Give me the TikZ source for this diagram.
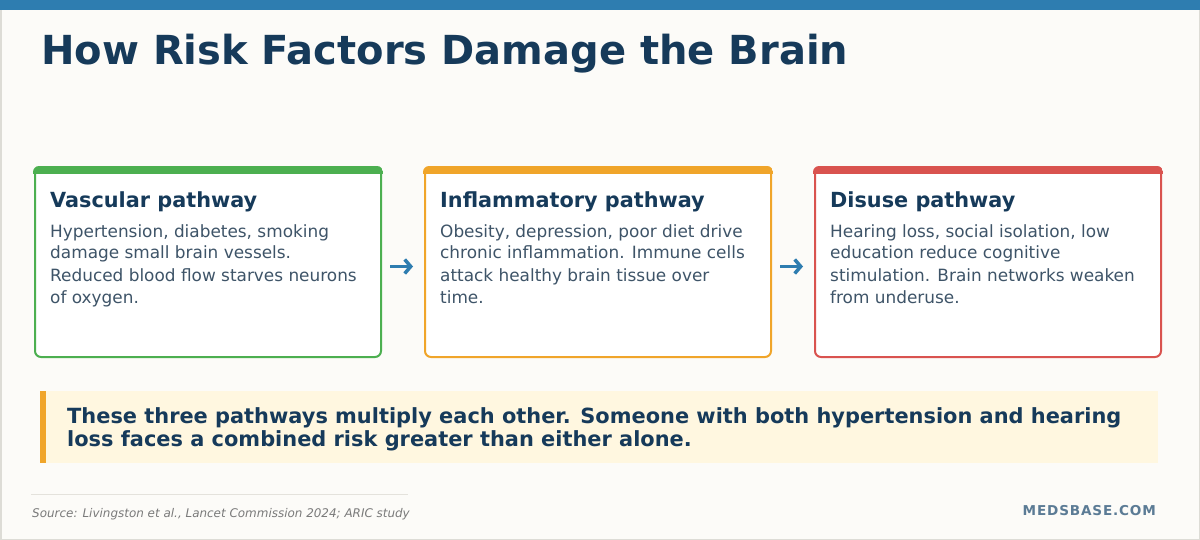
\documentclass[tikz,border=0pt]{standalone}
\usepackage{fontspec}
\setmainfont{DejaVu Sans}
\usetikzlibrary{arrows.meta}
\definecolor{bg}{HTML}{FCFBF8}
\definecolor{framegray}{HTML}{DDDCD6}
\definecolor{topblue}{HTML}{2E7DB0}
\definecolor{navy}{HTML}{163A5A}
\definecolor{slate}{HTML}{3E5468}
\definecolor{cgreen}{HTML}{4CAF50}
\definecolor{corange}{HTML}{F0A52A}
\definecolor{cred}{HTML}{D9534F}
\definecolor{cream}{HTML}{FFF7E0}
\definecolor{srcgray}{HTML}{7A7A7A}
\definecolor{brand}{HTML}{5B7B95}
\definecolor{rule}{HTML}{E4E2DC}
\tikzset{
  card/.style={draw, line width=2pt, fill=white, rounded corners=6pt, anchor=north west,
    minimum width=346pt, minimum height=189pt, inner sep=0pt},
  cardhead/.style={anchor=base west, inner sep=0pt, text=navy, font=\fontsize{20.8}{24}\selectfont\bfseries},
  cardbody/.style={anchor=base west, inner sep=0pt, text=slate, align=left,
    font=\fontsize{16.9}{22}\selectfont},
  flowarrow/.style={draw=topblue, line width=3.5pt, -{Straight Barb[length=6pt,width=14pt,line width=3.5pt]}},
}
\begin{document}
\begin{tikzpicture}[x=1pt,y=-1pt]
\useasboundingbox (0,0) rectangle (1200,540);
\fill[bg] (0,0) rectangle (1200,540);
\draw[framegray, line width=1.5pt] (0.75,0) -- (0.75,539.25) -- (1199.25,539.25) -- (1199.25,0);
\fill[topblue] (0,0) rectangle (1200,10);

\node[anchor=base west, inner sep=0pt, text=navy, font=\fontsize{40}{46}\selectfont\bfseries] (title) at (41,65) {How Risk Factors Damage the Brain};

% cards
\node[card, draw=cgreen] (v) at (34,167) {};
\node[card, draw=corange] (i) at (424,167) {};
\node[card, draw=cred] (d) at (814,167) {};
\foreach \n/\c in {v/cgreen,i/corange,d/cred}{
  \begin{scope}
    \clip[rounded corners=6pt] ([shift={(-1pt,1pt)}]\n.north west) rectangle ([shift={(1pt,-1pt)}]\n.south east);
    \fill[\c] ([shift={(-1pt,1pt)}]\n.north west) rectangle ([shift={(1pt,-7pt)}]\n.north east);
  \end{scope}
}

% body nodes: anchor base = baseline of last line
\node[cardhead] (vh) at (50,208) {Vascular pathway};
\node[cardbody] (vb) at (50,303) {Hypertension, diabetes, smoking\\damage small brain vessels.\\Reduced blood flow starves neurons\\of oxygen.};
\node[cardhead] (ih) at (440,208) {Inflammatory pathway};
\node[cardbody] (ib) at (440,303) {Obesity, depression, poor diet drive\\chronic inflammation. Immune cells\\attack healthy brain tissue over\\time.};
\node[cardhead] (dh) at (830,208) {Disuse pathway};
\node[cardbody] (db) at (830,303) {Hearing loss, social isolation, low\\education reduce cognitive\\stimulation. Brain networks weaken\\from underuse.};

\draw[flowarrow, shorten <=8pt, shorten >=11pt] ([yshift=-4pt]v.east) -- ([yshift=-4pt]i.west);
\draw[flowarrow, shorten <=8pt, shorten >=11pt] ([yshift=-4pt]i.east) -- ([yshift=-4pt]d.west);

% callout
\fill[cream] (40,391) rectangle (1158,463);
\fill[corange] (40,391) rectangle (46,463);
\node[anchor=base west, inner sep=0pt, text=navy, align=left,
  font=\fontsize{20.9}{23}\selectfont\bfseries] (call) at (67,446)
  {These three pathways multiply each other. Someone with both hypertension and hearing\\loss faces a combined risk greater than either alone.};

% footer
\draw[rule, line width=1pt] (31,494) -- (408,494);
\node[anchor=base west, inner sep=0pt, text=srcgray, font=\fontsize{11.95}{14}\selectfont\itshape] (src) at (32,517)
  {Source: Livingston et al., Lancet Commission 2024; ARIC study};
\node[anchor=base east, inner sep=0pt, text=brand, font=\fontsize{13.6}{16}\selectfont\bfseries\addfontfeature{LetterSpace=6}] (brandname) at (1156,515)
  {MEDSBASE.COM};
\end{tikzpicture}
\end{document}
